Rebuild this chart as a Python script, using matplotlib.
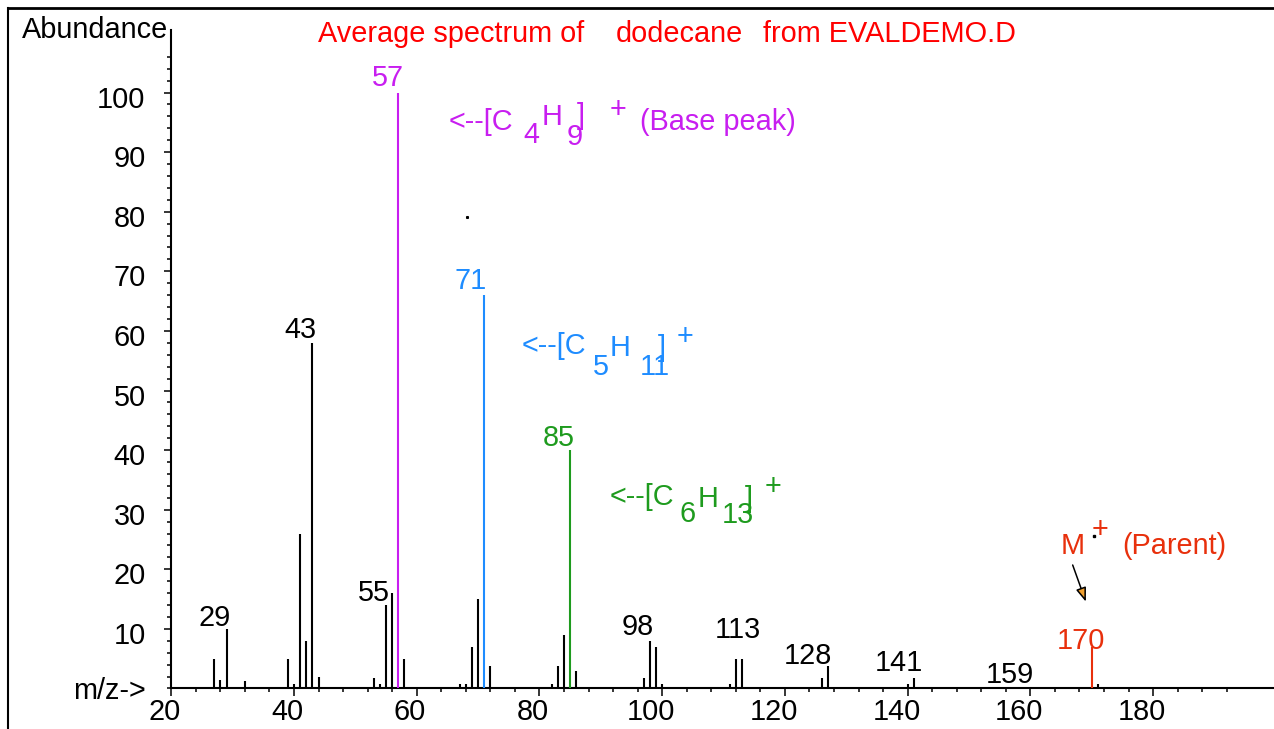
import numpy as np
import matplotlib
matplotlib.use("Agg")
import matplotlib.pyplot as plt
from matplotlib.lines import Line2D
from matplotlib.ticker import FixedLocator, NullFormatter
from matplotlib.transforms import ScaledTranslation

# ---------------- data ----------------
mz = [26, 27, 28, 29, 32, 39, 40, 41, 42, 43, 44, 50, 51, 53, 54, 55, 56, 57, 58,
      66, 67, 68, 69, 70, 71, 72, 73, 79, 82, 83, 84, 85, 86, 97, 98, 99, 100,
      111, 112, 113, 126, 127, 140, 141, 171]
abundance = [0.3, 5, 1.4, 10, 1.2, 5, 0.8, 26, 8, 58, 1.9, 0.3, 0.3, 1.8, 0.8, 14, 16, 100, 5,
             0.3, 0.8, 0.8, 7, 15, 66, 3.8, 0.3, 0.3, 0.8, 3.8, 9, 40, 2.9, 1.8, 8, 7, 0.8,
             0.8, 5, 5, 1.8, 3.7, 0.8, 1.8, 0.8]
parent_mz = [170]
parent_abundance = [7]

x_ticks = [20, 40, 60, 80, 100, 120, 140, 160, 180]
y_ticks = [10, 20, 30, 40, 50, 60, 70, 80, 90, 100]

FS = 20.8
plt.rcParams['font.family'] = ['Liberation Sans', 'DejaVu Sans']

fig = plt.figure(figsize=(12.74, 7.29), dpi=100)
ax = fig.add_axes([0.13446, 0.05556, 0.86554, 0.90329])
ax.set_xlim(20, 199.71)
ax.set_ylim(0, 110.49)

MAG = '#c81ef0'
BLU = '#1e8cff'
GRN = '#1e9b1e'
RED = '#e8300c'
highlight = {57: MAG, 71: BLU, 85: GRN}

cols = [highlight.get(m, 'black') for m in mz]
ax.vlines(mz, 0, abundance, colors=cols, lw=1.5, zorder=3)
ax.vlines(parent_mz, 0, parent_abundance, colors=RED, lw=1.5, zorder=3)

# axes styling
for s in ['top', 'right']:
    ax.spines[s].set_visible(False)
for s in ['left', 'bottom']:
    ax.spines[s].set_linewidth(1.5)
ax.spines['bottom'].set_clip_on(False)

ax.xaxis.set_major_locator(FixedLocator(x_ticks))
ax.xaxis.set_minor_locator(FixedLocator(list(np.arange(20, 196, 4))))
ax.yaxis.set_major_locator(FixedLocator(y_ticks))
ax.yaxis.set_minor_locator(FixedLocator(list(np.arange(0, 108, 2))))
ax.xaxis.set_minor_formatter(NullFormatter())
ax.yaxis.set_minor_formatter(NullFormatter())
ax.set_xticklabels([str(v) for v in x_ticks])
ax.set_yticklabels([str(v) for v in y_ticks])

ax.tick_params(axis='x', which='major', direction='out', length=5.8, width=1.1,
               labelsize=FS, pad=1)
ax.tick_params(axis='x', which='minor', direction='out', length=2.9, width=1.1)
ax.tick_params(axis='y', which='major', direction='out', length=5.0, width=1.1,
               labelsize=FS, pad=13.5)
ax.tick_params(axis='y', which='minor', direction='out', length=2.6, width=1.1)

for lab in ax.get_xticklabels():
    dx = -0.11 if len(lab.get_text()) >= 3 else -0.07
    lab.set_transform(lab.get_transform() + ScaledTranslation(dx, 0, fig.dpi_scale_trans))
for lab in ax.get_yticklabels():
    lab.set_transform(lab.get_transform() + ScaledTranslation(0, -0.04, fig.dpi_scale_trans))


def t(x, y, s, color='black', ha='left'):
    ax.text(x, y, s, color=color, fontsize=FS, ha=ha, va='baseline', clip_on=False, zorder=4)


# peak labels
t(27.12, 10.49, '29', ha='center')
t(40.97, 58.81, '43', ha='center')
t(53.03, 14.68, '55', ha='center')
t(55.32, 101.1, '57', MAG, ha='center')
t(68.84, 67.03, '71', BLU, ha='center')
t(83.18, 40.69, '85', GRN, ha='center')
t(96.06, 9.0, '98', ha='center')
t(112.36, 8.5, '113', ha='center')
t(123.77, 4.11, '128', ha='center')
t(138.6, 2.94, '141', ha='center')
t(156.69, 0.92, '159', ha='center')
t(168.26, 6.63, '170', RED, ha='center')

# C4H9+ annotation
t(65.26, 93.71, '<--[C', MAG)
t(77.32, 91.53, '4', MAG)
t(80.41, 94.55, 'H', MAG)
t(84.49, 91.2, '9', MAG)
t(86.12, 94.7, ']', MAG)
t(92.8, 95.73, '+', MAG, ha='center')
t(96.38, 93.71, '(Base peak)', MAG)

# C5H11+ annotation
t(77.1, 56.12, '<--[C', BLU)
t(88.73, 52.6, '5', BLU)
t(91.5, 55.79, 'H', BLU)
t(96.38, 52.6, '11', BLU)
t(99.32, 55.79, ']', BLU)
t(103.64, 57.63, '+', BLU, ha='center')

# C6H13+ annotation
t(91.5, 30.79, '<--[C', GRN)
t(102.9, 27.94, '6', GRN)
t(105.84, 30.45, 'H', GRN)
t(109.75, 27.77, '13', GRN)
t(113.5, 30.45, ']', GRN)
t(118.1, 32.47, '+', GRN, ha='center')

# parent annotation
t(165.0, 22.57, 'M', RED)
t(171.35, 25.2, '+', RED, ha='center')
ax.plot([170.3], [25.6], marker='s', ms=2, color='black', zorder=5, clip_on=False)
t(174.93, 22.57, '(Parent)', RED)
ax.annotate('', xy=(169.05, 14.56), xytext=(166.9, 20.72),
            arrowprops=dict(arrowstyle='-|>,head_length=0.6,head_width=0.22',
                            mutation_scale=14, fc='#f0a030', ec='black', lw=1.1,
                            shrinkA=0, shrinkB=0))
# stray dot
ax.plot([68.2], [79.1], marker='s', ms=1.2, color='black', zorder=5)

# figure-level texts
fig.text(22 / 1274, 1 - 38 / 729, 'Abundance', fontsize=FS, ha='left', va='baseline')
fig.text(318 / 1274, 1 - 42 / 729, 'Average spectrum of', fontsize=FS, color='red',
         ha='left', va='baseline')
fig.text(616 / 1274, 1 - 42 / 729, 'dodecane', fontsize=FS, color='red',
         ha='left', va='baseline')
fig.text(763.3 / 1274, 1 - 42 / 729, 'from EVALDEMO.D', fontsize=FS, color='red',
         ha='left', va='baseline')
fig.text(73 / 1274, 1 - 699 / 729, 'm/z->', fontsize=FS, ha='left', va='baseline')

# border lines
fig.add_artist(Line2D([8 / 1274, 8 / 1274], [0, 1 - 8 / 729], transform=fig.transFigure,
                      color='black', lw=1.5))
fig.add_artist(Line2D([8 / 1274, 1], [1 - 8 / 729, 1 - 8 / 729], transform=fig.transFigure,
                      color='black', lw=2))

fig.savefig('out.png', dpi=100)
